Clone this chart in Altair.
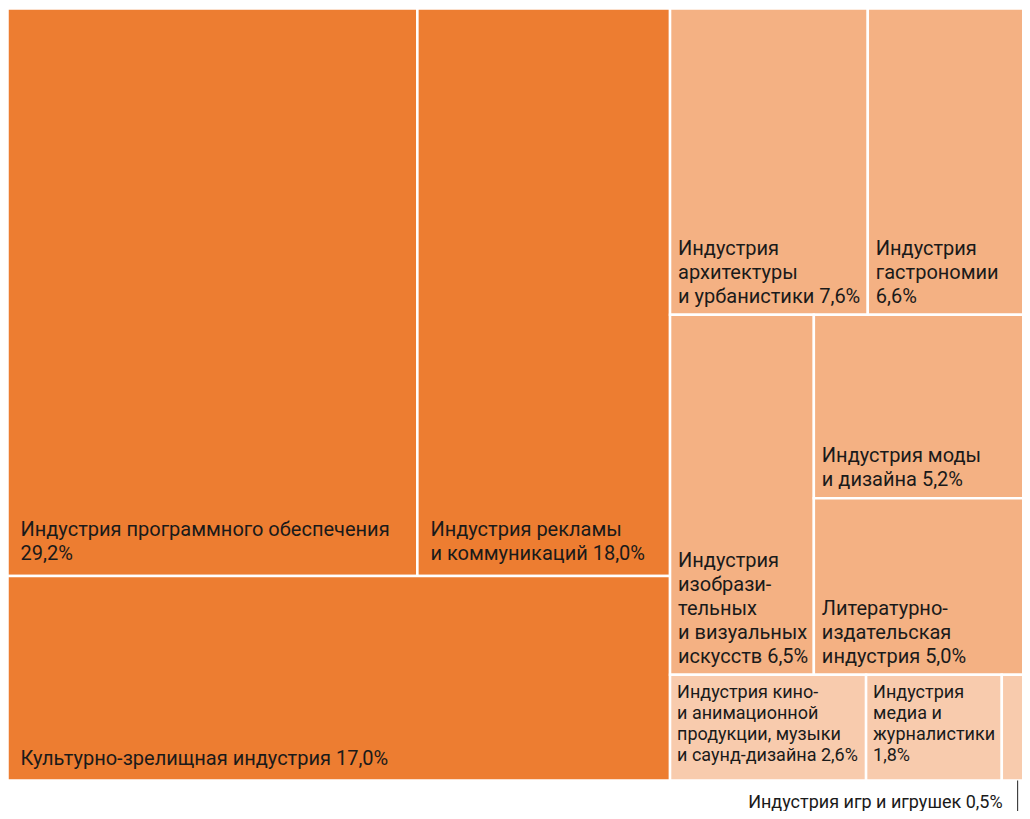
import altair as alt
import pandas as pd

names = [
    "Индустрия программного обеспечения",
    "Индустрия рекламы и коммуникаций",
    "Культурно-зрелищная индустрия",
    "Индустрия архитектуры и урбанистики",
    "Индустрия гастрономии",
    "Индустрия изобразительных и визуальных искусств",
    "Индустрия моды и дизайна",
    "Литературно-издательская индустрия",
    "Индустрия кино- и анимационной продукции, музыки и саунд-дизайна",
    "Индустрия медиа и журналистики",
    "Индустрия игр и игрушек",
]
values = [29.2, 18.0, 17.0, 7.6, 6.6, 6.5, 5.2, 5.0, 2.6, 1.8, 0.5]
labels = [
    "Индустрия программного обеспечения\n29,2%",
    "Индустрия рекламы\nи коммуникаций 18,0%",
    "Культурно-зрелищная индустрия 17,0%",
    "Индустрия\nархитектуры\nи урбанистики 7,6%",
    "Индустрия\nгастрономии\n6,6%",
    "Индустрия\nизобрази-\nтельных\nи визуальных\nискусств 6,5%",
    "Индустрия моды\nи дизайна 5,2%",
    "Литературно-\nиздательская\nиндустрия 5,0%",
    "Индустрия кино-\nи анимационной\nпродукции, музыки\nи саунд-дизайна 2,6%",
    "Индустрия\nмедиа и\nжурналистики\n1,8%",
    "Индустрия игр и игрушек 0,5%",
]
tiers = ["big", "big", "big", "mid", "mid", "mid", "mid", "mid", "small", "small", "tiny"]

# grouping of the treemap (nested slice-and-dice, alternating direction)
tree = [[[0, 1], 2], [[3, 4], [5, [6, 7]], [8, 9, 10]]]


def total(node):
    if isinstance(node, int):
        return values[node]
    return sum(total(c) for c in node)


rects = {}


def layout(node, x0, y0, x1, y1, horizontal):
    if isinstance(node, int):
        rects[node] = (x0, y0, x1, y1)
        return
    s = total(node)
    pos = x0 if horizontal else y0
    for c in node:
        f = total(c) / s
        if horizontal:
            w = (x1 - x0) * f
            layout(c, pos, y0, pos + w, y1, False)
            pos += w
        else:
            h = (y1 - y0) * f
            layout(c, x0, pos, x1, pos + h, True)
            pos += h


layout(tree, 0.0, 0.0, 1.0, 1.0, True)

n = len(values)
df = pd.DataFrame({
    "name": names,
    "value": values,
    "label": labels,
    "tier": tiers,
    "x0": [rects[i][0] for i in range(n)],
    "y0": [rects[i][1] for i in range(n)],
    "x1": [rects[i][2] for i in range(n)],
    "y1": [rects[i][3] for i in range(n)],
})
df["cx"] = (df["x0"] + df["x1"]) / 2
df["nlines"] = [lab.count("\n") + 1 for lab in labels]

W, H = 1014, 803
xs = alt.Scale(domain=[0, 1], range=[-0.5, 1031.5])
ys = alt.Scale(domain=[0, 1], range=[0.5, 772.5])
FONT = "Roboto"
TXT = "#1a1a1a"

base = alt.Chart(df)

rect = base.mark_rect(stroke="white", strokeWidth=2.5).encode(
    x=alt.X("x0:Q", scale=xs, axis=None),
    x2="x1:Q",
    y=alt.Y("y0:Q", scale=ys, axis=None),
    y2="y1:Q",
    color=alt.Color(
        "tier:N",
        scale=alt.Scale(domain=["big", "mid", "small", "tiny"],
                        range=["#ED7D31", "#F4B183", "#F8CBAD", "#F8CBAD"]),
        legend=None,
    ),
    tooltip=["name:N", "value:Q"],
)

layers = [rect]

# bottom-anchored labels: (tier, font size, line height, left pad, baseline pad)
bottom_styles = [("big", 20, 24, 13, 16), ("mid", 20, 24, 8, 12)]
for tier, fs, lh, padx, pady in bottom_styles:
    for k in sorted(set(df.loc[df.tier == tier, "nlines"])):
        layers.append(
            base.transform_filter(
                (alt.datum.tier == tier) & (alt.datum.nlines == int(k))
            ).mark_text(
                align="left", baseline="alphabetic", dx=padx,
                dy=-pady - (int(k) - 1) * lh, fontSize=fs, lineHeight=lh,
                lineBreak="\n", font=FONT, color=TXT,
            ).encode(x=alt.X("x0:Q", scale=xs), y=alt.Y("y1:Q", scale=ys),
                     text="label:N")
        )

small = base.transform_filter(alt.datum.tier == "small").mark_text(
    align="left", baseline="top", dx=7, dy=9, fontSize=18, lineHeight=21,
    lineBreak="\n", font=FONT, color=TXT,
).encode(x=alt.X("x0:Q", scale=xs), y=alt.Y("y0:Q", scale=ys), text="label:N")

leader = base.transform_filter(alt.datum.tier == "tiny").mark_rule(
    color="#222222", strokeWidth=1, xOffset=-3,
).encode(x=alt.X("cx:Q", scale=xs), y=alt.Y("y1:Q", scale=ys), y2=alt.value(H))

tiny = base.transform_filter(alt.datum.tier == "tiny").mark_text(
    align="right", baseline="alphabetic", dx=-18, dy=27, fontSize=18,
    font=FONT, color=TXT,
).encode(x=alt.X("cx:Q", scale=xs), y=alt.Y("y1:Q", scale=ys), text="label:N")

layers += [small, leader, tiny]

chart = alt.layer(*layers).properties(
    width=W, height=H, padding=0,
    autosize=alt.AutoSizeParams(type="none"),
).configure_view(stroke=None)

chart.save("out.html", embed_options={"renderer": "svg", "actions": False})
